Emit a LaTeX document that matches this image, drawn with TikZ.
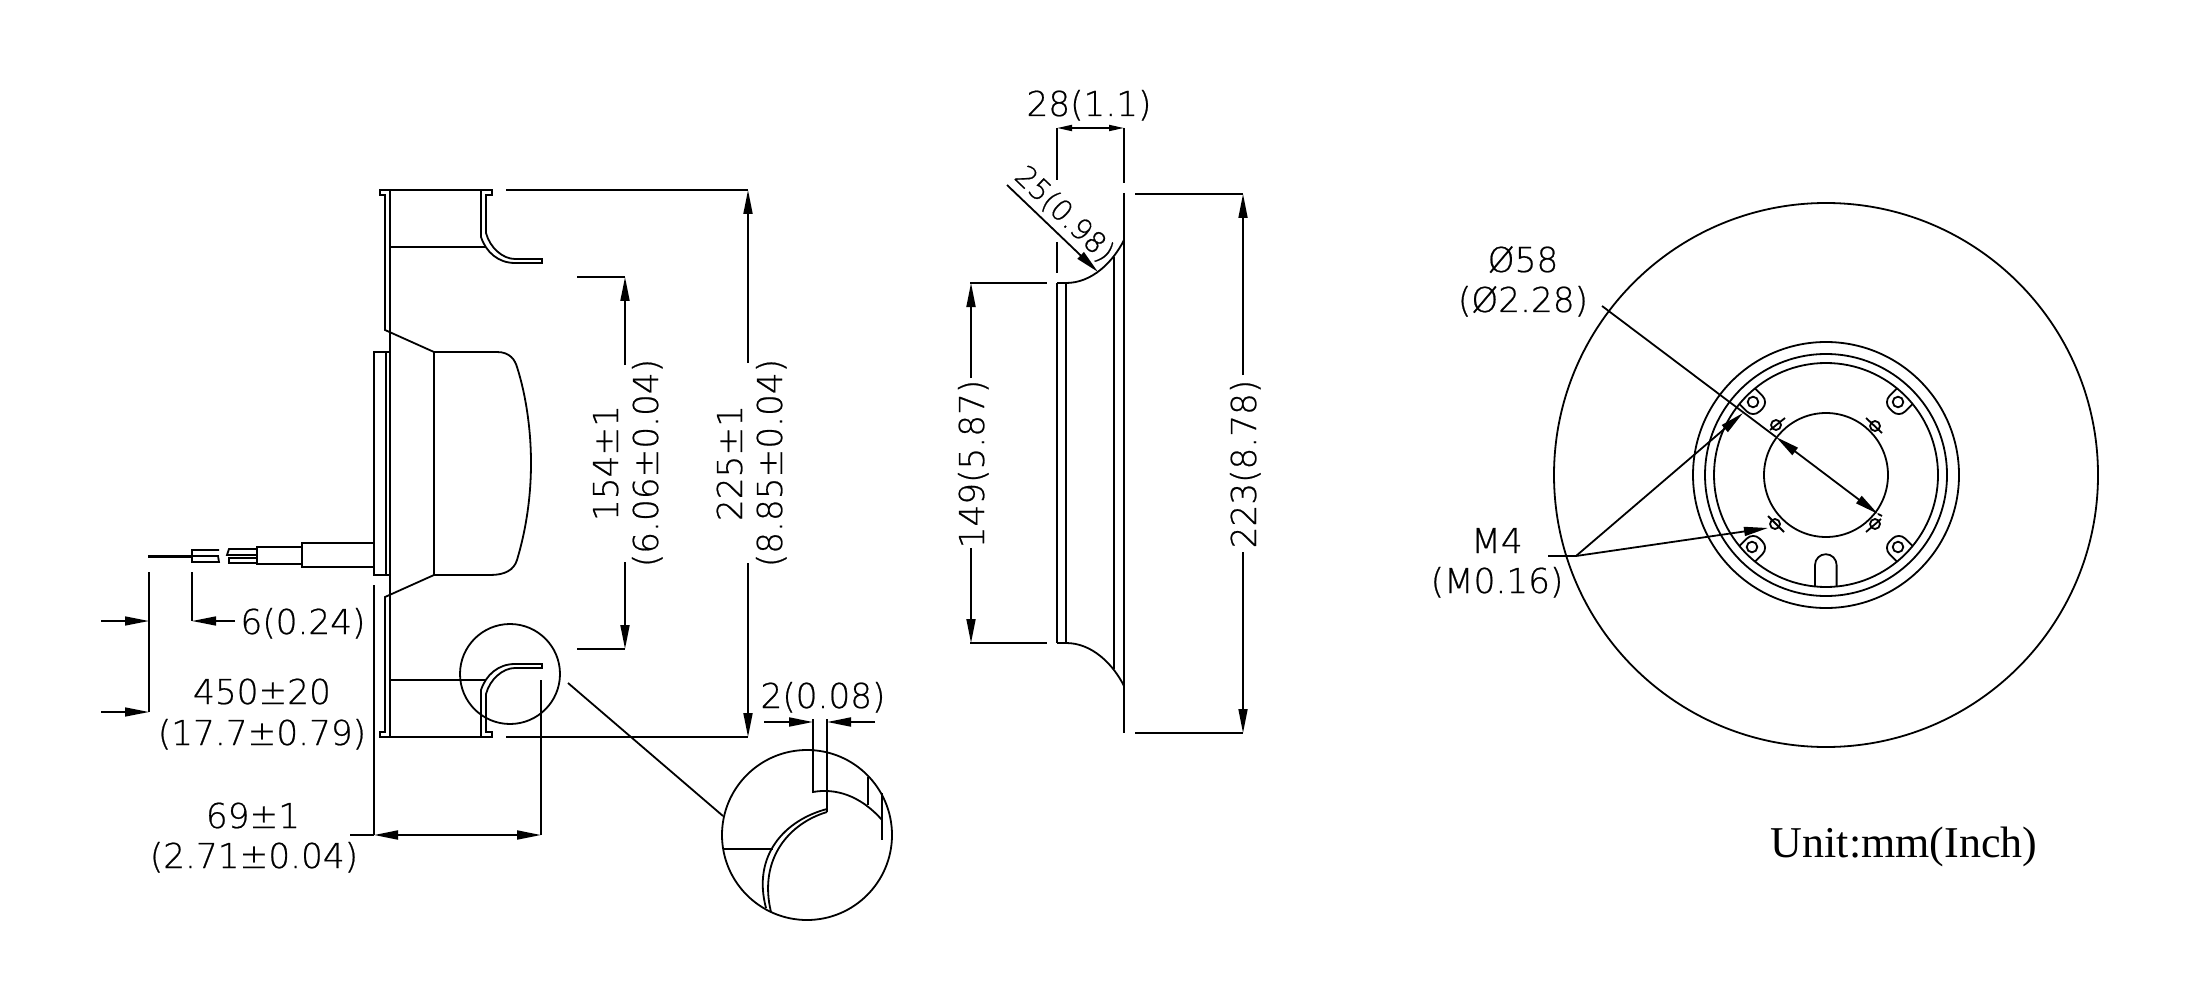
\documentclass[tikz,border=0pt]{standalone}
\usepackage{fontspec}
\setmainfont{DejaVu Sans}
\newfontfamily\dimfont[FakeBold=0.6]{DejaVu Sans ExtraLight}
\newfontfamily\unitfont{Liberation Serif}
\usetikzlibrary{arrows.meta}
\begin{document}
\begin{tikzpicture}[x=1pt,y=-1pt,line width=1.8pt,line join=miter,
	>={Triangle[length=24pt,width=9pt]},
	smalltip/.style={>={Triangle[length=15pt,width=6pt]}},
	thinline/.style={line width=1.5pt},
	dimtext/.style={inner sep=0pt,anchor=base,font=\dimfont\fontsize{34.3}{40}\selectfont},
	slanttext/.style={inner sep=0pt,anchor=base,font=\dimfont\fontsize{29}{34}\selectfont},
	unittext/.style={inner sep=0pt,anchor=base west,font=\unitfont\fontsize{44}{50}\selectfont}]
	\useasboundingbox (0,0) rectangle (2200,1000);

	% Side view, rotor
	\draw (390,190) -- (390,737);
	\draw (390,190) -- (380,190) -- (380,195) -- (385,195) -- (385,330) -- (434,352);
	\draw (390,737) -- (380,737) -- (380,732) -- (385,732) -- (385,597) -- (434,575);
	\draw (390,190) -- (492,190) -- (492,195) -- (486,195) -- (486,233) .. controls (490,248) and (503,259) .. (515,259) -- (542,259) -- (542,263) -- (515,263) .. controls (498,263) and (486,252) .. (481,237) -- (481,190);
	\draw (390,737) -- (492,737) -- (492,732) -- (486,732) -- (486,694) .. controls (490,679) and (503,668) .. (515,668) -- (542,668) -- (542,664) -- (515,664) .. controls (498,664) and (486,675) .. (481,690) -- (481,737);
	\draw (390,247) -- (485,247);
	\draw (390,680) -- (485,680);

	% Side view, motor
	\draw (434,352) -- (434,575);
	\draw (434,352) -- (497,352) .. controls (510,352) and (515,360) .. (517,367) .. controls (526,395) and (531,430) .. (531,463) .. controls (531,497) and (526,530) .. (517,560) .. controls (514,570) and (505,575) .. (490,575) -- (434,575);
	\draw (389,352) -- (374,352) -- (374,575) -- (389,575);
	\draw (386,352) -- (386,575);

	% Cable
	\draw (374,543) -- (302,543) -- (302,567) -- (374,567);
	\draw (302,547) -- (257,547) -- (257,564) -- (302,564);
	\draw (257,549) -- (229,549) -- (227,555) -- (257,555);
	\draw (257,558) -- (229,558) -- (229,563) -- (257,563);
	\draw (219,550) -- (192,550) -- (192,562) -- (219,562) -- (218,556) -- (192,556);
	\draw[line width=3pt] (148,556) -- (192,556);

	% Side view dimensions
	\draw[thinline] (149,572) -- (149,712);
	\draw[thinline,->] (101,621) -- (149,621);
	\draw[thinline,->] (101,712) -- (149,712);
	\draw[thinline] (192,572) -- (192,621);
	\draw[thinline,->] (235,621) -- (192,621);
	\draw (374,585) -- (374,835);
	\draw (541,680) -- (541,835);
	\draw (350,835) -- (374,835);
	\draw[<->] (374,835) -- (541,835);
	\draw (506,190) -- (748,190);
	\draw (506,737) -- (748,737);
	\draw[->] (748,363) -- (748,190);
	\draw[->] (748,563) -- (748,737);
	\draw (577,277) -- (625,277);
	\draw (577,649) -- (625,649);
	\draw[->] (625,365) -- (625,277);
	\draw[->] (625,562) -- (625,649);

	\node[dimtext] (lblsix) at (303,634) {6(0.24)};
	\node[dimtext] (lblcable) at (262,704) {450±20};
	\node[dimtext] (lblcablein) at (262,745) {(17.7±0.79)};
	\node[dimtext] (lblwidth) at (253,828) {69±1};
	\node[dimtext] (lblwidthin) at (254,868) {(2.71±0.04)};
	\node[dimtext,rotate=90] (lblinner) at (618,463) {154±1};
	\node[dimtext,rotate=90] (lblinnerin) at (658,463) {(6.06±0.04)};
	\node[dimtext,rotate=90] (lblouter) at (742,463) {225±1};
	\node[dimtext,rotate=90] (lblouterin) at (782,463) {(8.85±0.04)};

	% Detail circle
	\draw (510,674) circle (50);
	\draw (568,683) -- (723,816);
	\draw (807,835) circle (85);
	\draw (813,719) -- (813,792) .. controls (835,788) and (860,795) .. (882,820);
	\draw (827,719) -- (827,812);
	\draw (868,777) -- (868,805);
	\draw (882,793) -- (882,840);
	\draw (827,809) .. controls (785,820) and (752,855) .. (766,908);
	\draw (827,812) .. controls (790,823) and (758,858) .. (771,912);
	\draw (724,849) -- (773,849);
	\draw[->] (764,722) -- (813,722);
	\draw[->] (875,722) -- (827,722);
	\node[dimtext] (lblwall) at (823,708) {2(0.08)};

	% Front view
	\draw (1057,128) -- (1057,180);
	\draw (1057,242) -- (1057,273);
	\draw (1057,283) -- (1057,643);
	\draw (1066,283) -- (1066,643);
	\draw (1114,257) -- (1114,669);
	\draw (1124,128) -- (1124,183);
	\draw (1124,193) -- (1124,733);
	\draw (1057,283) -- (1066,283) .. controls (1092,283) and (1113,262) .. (1124,240);
	\draw (1057,643) -- (1066,643) .. controls (1092,643) and (1113,664) .. (1124,686);

	% Front view dimensions
	\draw[smalltip,<->] (1057,128) -- (1124,128);
	\draw (970,283) -- (1047,283);
	\draw (970,643) -- (1047,643);
	\draw[->] (971,378) -- (971,283);
	\draw[->] (971,548) -- (971,643);
	\draw (1135,194) -- (1243,194);
	\draw (1135,733) -- (1243,733);
	\draw[->] (1243,375) -- (1243,194);
	\draw[->] (1243,552) -- (1243,733);
	\draw[->] (1007,185) -- (1098,272);
	\node[dimtext] (lbldepth) at (1089,116) {28(1.1)};
	\node[slanttext,rotate=-43.6] (lblradius) at (1058,221) {25(0.98)};
	\node[dimtext,rotate=90] (lblinlet) at (984,464) {149(5.87)};
	\node[dimtext,rotate=90] (lbldia) at (1256,464) {223(8.78)};

	% Rear view
	\draw (1826,475) circle (272);
	\draw (1826,475) circle (133);
	\draw (1826,475) circle (121);
	\draw (1826,475) circle (112);
	\draw (1826,475) circle (62);

	% Bosses
	\draw[rounded corners=9pt] (1755.3,388.7) -- (1768.8,402.2) -- (1753.2,417.8) -- (1739.7,404.3);
	\draw[rounded corners=9pt] (1896.7,388.7) -- (1883.2,402.2) -- (1898.8,417.8) -- (1912.3,404.3);
	\draw[rounded corners=9pt] (1755.3,561.3) -- (1768.8,547.8) -- (1753.2,532.2) -- (1739.7,545.7);
	\draw[rounded corners=9pt] (1896.7,561.3) -- (1883.2,547.8) -- (1898.8,532.2) -- (1912.3,545.7);
	\draw (1753,402) circle (5.3);
	\draw (1898,402) circle (5.3);
	\draw (1752,547) circle (5.3);
	\draw (1898,547) circle (5.3);

	% M4 holes
	\draw (1776,425) circle (5);
	\draw (1875,426) circle (5);
	\draw (1775,524) circle (5);
	\draw (1875,524) circle (5);
	\draw (1770,430) -- (1785,418);
	\draw (1866,418) -- (1882,433);
	\draw (1768,516) -- (1784,532);
	\draw (1866,532) -- (1881,519);

	% Slot
	\draw (1815,586) -- (1815,565) arc (180:360:10.8) -- (1836.6,586);

	% Rear view dimensions
	\draw (1602,306) -- (1776,437);
	\draw[<->] (1776,437) -- (1878,514);
	\draw (1878,514) -- (1882,516);
	\draw (1548,556) -- (1576,556);
	\draw[->] (1576,556) -- (1743,413);
	\draw[->] (1576,556) -- (1768,528);
	\node[dimtext] (lblbore) at (1523,272) {Ø58};
	\node[dimtext] (lblborein) at (1523,312) {(Ø2.28)};
	\node[dimtext] (lblscrew) at (1497,553) {M4};
	\node[dimtext] (lblscrewin) at (1497,593) {(M0.16)};

	\node[unittext] (lblunit) at (1770,857) {Unit:mm(Inch)};
\end{tikzpicture}
\end{document}
